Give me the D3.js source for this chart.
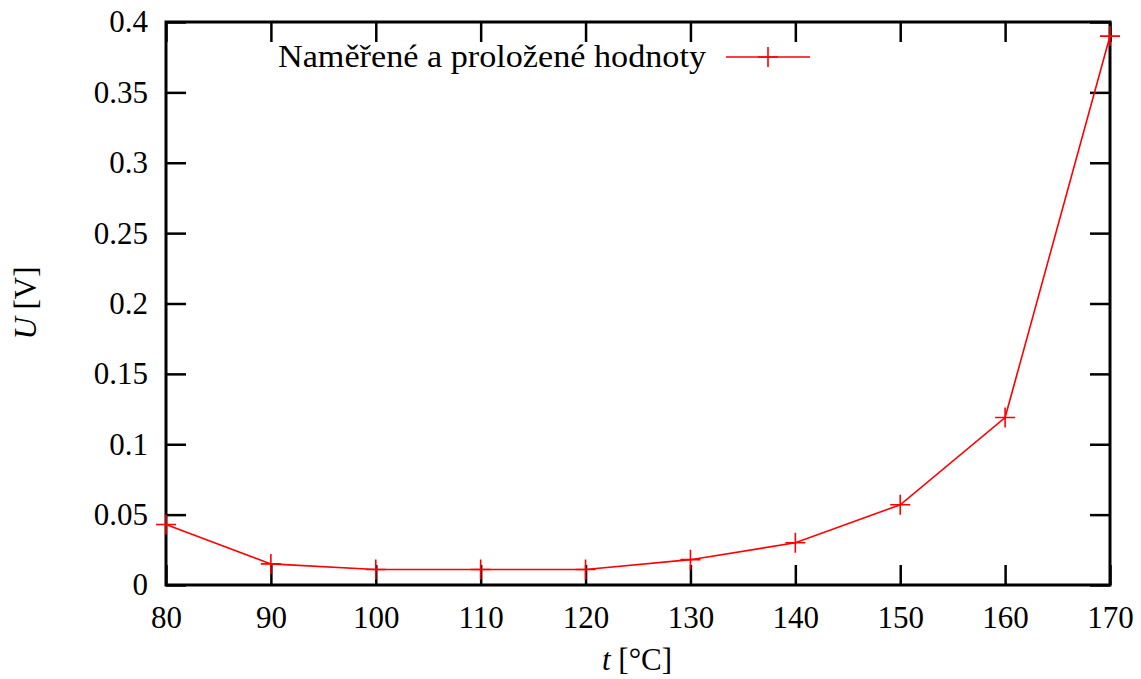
<!DOCTYPE html>
<html>
<head>
<meta charset="utf-8">
<script src="https://cdn.jsdelivr.net/npm/d3@7"></script>
<style>
  body { margin: 0; background: #fff; }
  svg text { font-family: "Liberation Serif", "Times New Roman", Times, serif; fill: #000; }
</style>
</head>
<body>
<script>
// measured points
var temps = [80, 90, 100, 110, 120, 130, 140, 150, 160, 170];
var voltages = [0.043, 0.015, 0.011, 0.011, 0.011, 0.018, 0.030, 0.057, 0.119, 0.390];

// tick values and labels
var xTicks = [80, 90, 100, 110, 120, 130, 140, 150, 160, 170];
var xTickLabels = ["80", "90", "100", "110", "120", "130", "140", "150", "160", "170"];
var yTicks = [0, 0.05, 0.1, 0.15, 0.2, 0.25, 0.3, 0.35, 0.4];
var yTickLabels = ["0", "0.05", "0.1", "0.15", "0.2", "0.25", "0.3", "0.35", "0.4"];

var legendLabel = "Naměřené a proložené hodnoty";

var w = 1141, h = 679;
var pLeft = 166, pRight = 1110, pTop = 22, pBottom = 585;

var svg = d3.select("body").append("svg")
    .attr("width", w)
    .attr("height", h);

svg.append("rect").attr("width", w).attr("height", h).attr("fill", "#fff");

var x = d3.scaleLinear().domain([80, 170]).range([pLeft, pRight]);
var y = d3.scaleLinear().domain([0, 0.4]).range([pBottom, pTop]);

/* axes: ticks point inward, labels only on bottom and left */
function styleAxis(g) {
    g.attr("font-family", null).attr("font-size", 31);
    g.select(".domain").remove();
    g.selectAll(".tick line").attr("stroke", "#000").attr("stroke-width", 2.5);
}

svg.append("g")
    .attr("transform", "translate(0," + pBottom + ")")
    .call(d3.axisBottom(x).tickValues(xTicks)
        .tickFormat(function(d, i) { return xTickLabels[i]; })
        .tickSizeInner(-20).tickSizeOuter(0).tickPadding(21))
    .call(styleAxis);

svg.append("g")
    .attr("transform", "translate(0," + pTop + ")")
    .call(d3.axisTop(x).tickValues(xTicks).tickFormat("")
        .tickSizeInner(-20).tickSizeOuter(0))
    .call(styleAxis);

svg.append("g")
    .attr("transform", "translate(" + pLeft + ",0)")
    .call(d3.axisLeft(y).tickValues(yTicks)
        .tickFormat(function(d, i) { return yTickLabels[i]; })
        .tickSizeInner(-20).tickSizeOuter(0).tickPadding(18))
    .call(styleAxis);

svg.append("g")
    .attr("transform", "translate(" + pRight + ",0)")
    .call(d3.axisRight(y).tickValues(yTicks).tickFormat("")
        .tickSizeInner(-20).tickSizeOuter(0))
    .call(styleAxis);

/* frame */
svg.append("rect")
    .attr("x", pLeft).attr("y", pTop)
    .attr("width", pRight - pLeft).attr("height", pBottom - pTop)
    .attr("fill", "none").attr("stroke", "#000").attr("stroke-width", 3);

/* data line */
var line = d3.line()
    .x(function(d, i) { return x(temps[i]); })
    .y(function(d) { return y(d); });

svg.append("path")
    .datum(voltages)
    .attr("d", line)
    .attr("fill", "none")
    .attr("stroke", "#ff0000")
    .attr("stroke-width", 1.6);

var plus = "M-10,0H10M0,-10V10";
svg.selectAll(".pt")
    .data(voltages)
    .enter()
    .append("path")
        .attr("class", "pt")
        .attr("transform", function(d, i) { return "translate(" + x(temps[i]) + "," + y(d) + ")"; })
        .attr("d", plus)
        .attr("stroke", "#ff0000")
        .attr("stroke-width", 1.6)
        .attr("fill", "none");

/* legend */
svg.append("text")
    .attr("x", 706).attr("y", 67)
    .attr("text-anchor", "end")
    .attr("font-size", 31)
    .attr("textLength", 428)
    .attr("lengthAdjust", "spacingAndGlyphs")
    .text(legendLabel);

svg.append("line")
    .attr("x1", 726).attr("x2", 810).attr("y1", 57).attr("y2", 57)
    .attr("stroke", "#ff0000").attr("stroke-width", 1.6);
svg.append("path")
    .attr("transform", "translate(768,57)")
    .attr("d", plus)
    .attr("stroke", "#ff0000").attr("stroke-width", 1.6);

/* axis titles */
var xt = svg.append("text")
    .attr("x", 637).attr("y", 670)
    .attr("text-anchor", "middle")
    .attr("font-size", 31);
xt.append("tspan").attr("font-style", "italic").text("t");
xt.append("tspan").text(" [°C]");

var yt = svg.append("text")
    .attr("transform", "translate(36,303) rotate(-90)")
    .attr("text-anchor", "middle")
    .attr("font-size", 31);
yt.append("tspan").attr("font-style", "italic").text("U");
yt.append("tspan").text(" [V]");
</script>
</body>
</html>
